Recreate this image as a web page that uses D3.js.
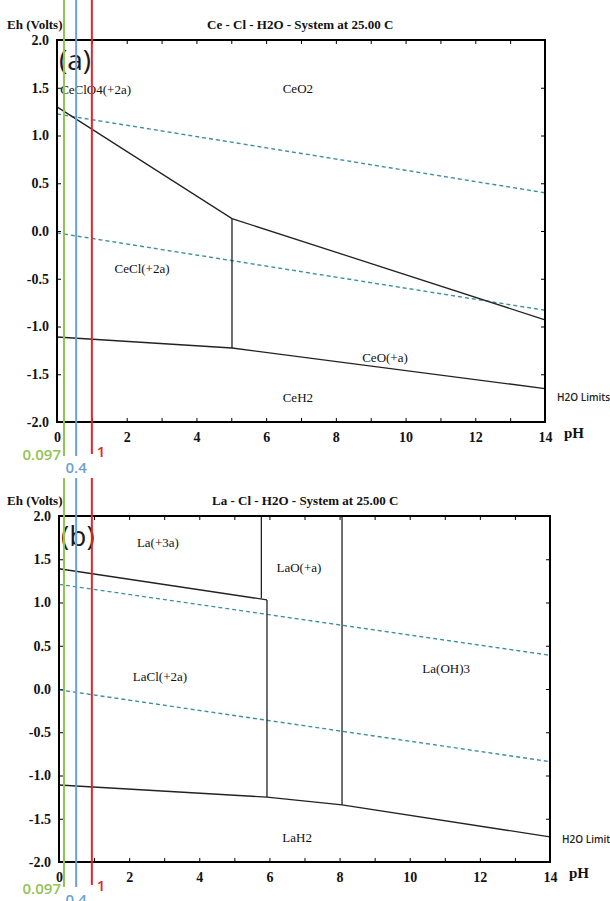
<!DOCTYPE html>
<html>
<head>
<meta charset="utf-8">
<script src="https://cdn.jsdelivr.net/npm/d3@7"></script>
<style>
  body { margin: 0; background: #fff; }
  .serif { font-family: "Liberation Serif", "DejaVu Serif", serif; }
</style>
</head>
<body>
<div id="chart-area"></div>
<script>
/*
* Eh - pH (Pourbaix) diagrams, Ce-Cl-H2O and La-Cl-H2O at 25 C
*/

// ticks shared by both diagrams
var phTicks = d3.range(0, 15, 1);
var ehTicks = [2.0, 1.5, 1.0, 0.5, 0.0, -0.5, -1.0, -1.5, -2.0];

// (a) Ce - Cl - H2O : boundary lines as [pH, Eh]
var ceTitle = "Ce - Cl - H2O - System at 25.00 C";
var ceUpper = [[0, 1.30], [5.02, 0.13], [14, -0.93]];
var ceVertical = [[5.02, 0.13], [5.02, -1.225]];
var ceLower = [[0, -1.11], [5.02, -1.225], [14, -1.65]];
var ceWaterTop = [[0, 1.225], [14, 0.40]];
var ceWaterBottom = [[0, -0.02], [14, -0.83]];
var ceSpecies = ["CeClO4(+2a)", "CeO2", "CeCl(+2a)", "CeO(+a)", "CeH2"];
var ceSpeciesPh = [0.09, 6.91, 2.44, 9.41, 6.91];
var ceSpeciesEh = [1.48, 1.49, -0.39, -1.32, -1.74];

// (b) La - Cl - H2O
var laTitle = "La - Cl - H2O - System at 25.00 C";
var laUpper = [[0, 1.39], [5.93, 1.03]];
var laVerticalA = [[5.77, 2.0], [5.77, 1.05]];
var laVerticalB = [[5.93, 1.03], [5.93, -1.25]];
var laVerticalC = [[8.07, 2.0], [8.07, -1.34]];
var laLower = [[0, -1.11], [5.93, -1.25], [8.07, -1.34], [14, -1.71]];
var laWaterTop = [[0, 1.21], [14, 0.39]];
var laWaterBottom = [[0, -0.01], [14, -0.84]];
var laSpecies = ["La(+3a)", "LaO(+a)", "LaCl(+2a)", "La(OH)3", "LaH2"];
var laSpeciesPh = [2.82, 6.84, 2.88, 11.04, 6.79];
var laSpeciesEh = [1.69, 1.41, 0.14, 0.24, -1.72];

// pH markers drawn over both diagrams (x read where they were drawn)
var markerText = ["0.097", "0.4", "1"];
var markerPh = [0.2, 0.55, 1.0];
var markerColors = ["#92c353", "#6c9fd6", "#e0262c"];

var svg = d3.select("#chart-area")
  .append("svg")
    .attr("width", 610)
    .attr("height", 901);

function drawPanel(p) {
  var x = d3.scaleLinear().domain([0, 14]).range([p.left, p.left + p.width]);
  var y = d3.scaleLinear().domain([-2, 2]).range([p.top + p.height, p.top]);
  var g = svg.append("g");
  var line = d3.line().x(d => x(d[0])).y(d => y(d[1]));

  // axes, ticks point inwards on all four sides
  var fmtEh = d => d.toFixed(1);
  var fmtPh = d => (d % 2 === 0 ? d : "");

  var axes = [
    [d3.axisBottom(x).tickValues(phTicks).tickFormat(fmtPh).tickPadding(10), "translate(0," + (p.top + p.height) + ")"],
    [d3.axisTop(x).tickValues(phTicks).tickFormat(""), "translate(0," + p.top + ")"],
    [d3.axisLeft(y).tickValues(ehTicks).tickFormat(fmtEh).tickPadding(8), "translate(" + p.left + ",0)"],
    [d3.axisRight(y).tickValues(ehTicks).tickFormat(""), "translate(" + (p.left + p.width) + ",0)"]
  ];
  axes.forEach(function(a) {
    var ax = g.append("g")
      .attr("transform", a[1])
      .call(a[0].tickSizeInner(-4).tickSizeOuter(0));
    ax.select(".domain").remove();
    ax.selectAll("line").attr("stroke", "#000");
    ax.selectAll("text")
      .attr("class", "serif")
      .attr("font-size", 14)
      .attr("font-weight", "bold")
      .attr("fill", "#111");
  });

  // H2O stability limits
  [p.waterTop, p.waterBottom].forEach(function(w) {
    g.append("path")
      .attr("d", line(w))
      .attr("fill", "none")
      .attr("stroke", "#3f8f9d")
      .attr("stroke-width", 1.4)
      .attr("stroke-dasharray", "4,3");
  });

  // species boundaries
  p.bounds.forEach(function(b) {
    g.append("path")
      .attr("d", line(b))
      .attr("fill", "none")
      .attr("stroke", "#222")
      .attr("stroke-width", 1.3);
  });

  // frame
  g.append("rect")
    .attr("x", p.left)
    .attr("y", p.top)
    .attr("width", p.width)
    .attr("height", p.height)
    .attr("fill", "none")
    .attr("stroke", "#000")
    .attr("stroke-width", 2);

  // species names
  g.selectAll(".species")
    .data(p.species)
    .enter()
    .append("text")
      .attr("class", "serif")
      .attr("x", (d, i) => x(p.speciesPh[i]))
      .attr("y", (d, i) => y(p.speciesEh[i]))
      .attr("dy", "0.35em")
      .attr("text-anchor", (d, i) => (i === 0 && p.firstStart ? "start" : "middle"))
      .attr("font-size", 13)
      .attr("fill", "#111")
      .text(d => d);

  // titles
  g.append("text")
    .attr("class", "serif")
    .attr("x", p.titleX)
    .attr("y", p.top - 11)
    .attr("font-size", 13)
    .attr("font-weight", "bold")
    .attr("fill", "#111")
    .text(p.title);

  g.append("text")
    .attr("class", "serif")
    .attr("x", 7)
    .attr("y", p.top - 11)
    .attr("font-size", 13)
    .attr("font-weight", "bold")
    .attr("fill", "#111")
    .text("Eh (Volts)");

  g.append("text")
    .attr("class", "serif")
    .attr("x", p.left + p.width + 19)
    .attr("y", p.top + p.height + 16)
    .attr("font-size", 15)
    .attr("font-weight", "bold")
    .attr("fill", "#111")
    .text("pH");

  g.append("text")
    .attr("x", p.left + p.width + 12)
    .attr("y", y(-1.78))
    .attr("font-family", "'Open Sans', sans-serif")
    .attr("font-size", 10)
    .attr("font-weight", 600)
    .attr("fill", "#222")
    .text("H2O Limits");

  g.append("text")
    .attr("x", p.left + 2)
    .attr("y", p.top + 30)
    .attr("font-family", "'Open Sans', sans-serif")
    .attr("font-size", 28)
    .attr("fill", "#1a1a1a")
    .text(p.tag);

  return x;
}

var xa = drawPanel({
  left: 57, top: 40, width: 488, height: 382,
  title: ceTitle, titleX: 207, tag: "(a)", firstStart: true,
  bounds: [ceUpper, ceVertical, ceLower],
  waterTop: ceWaterTop, waterBottom: ceWaterBottom,
  species: ceSpecies, speciesPh: ceSpeciesPh, speciesEh: ceSpeciesEh
});

drawPanel({
  left: 59, top: 516, width: 491, height: 346,
  title: laTitle, titleX: 212, tag: "(b)", firstStart: false,
  bounds: [laUpper, laVerticalA, laVerticalB, laVerticalC, laLower],
  waterTop: laWaterTop, waterBottom: laWaterBottom,
  species: laSpecies, speciesPh: laSpeciesPh, speciesEh: laSpeciesEh
});

// coloured pH markers across both diagrams
var segments = [[0, 456], [478, 887]];
var mk = svg.append("g");
markerPh.forEach(function(ph, i) {
  segments.forEach(function(s) {
    mk.append("line")
      .attr("x1", xa(ph))
      .attr("x2", xa(ph))
      .attr("y1", s[0])
      .attr("y2", s[1] - (i === 2 ? 2 : 0))
      .attr("stroke", markerColors[i])
      .attr("stroke-width", 2);
  });
});

// marker labels, one set under each diagram
var labelRows = [[460, 473, 457], [894, 905, 891]];
labelRows.forEach(function(row) {
  markerText.forEach(function(t, i) {
    var anchor = ["end", "middle", "start"][i];
    var dx = [-3, 0, 5][i];
    mk.append("text")
      .attr("x", xa(markerPh[i]) + dx)
      .attr("y", row[i])
      .attr("text-anchor", anchor)
      .attr("font-family", "'Open Sans', sans-serif")
      .attr("font-size", 15)
      .attr("font-weight", 600)
      .attr("fill", markerColors[i])
      .text(t);
  });
});
</script>
</body>
</html>
